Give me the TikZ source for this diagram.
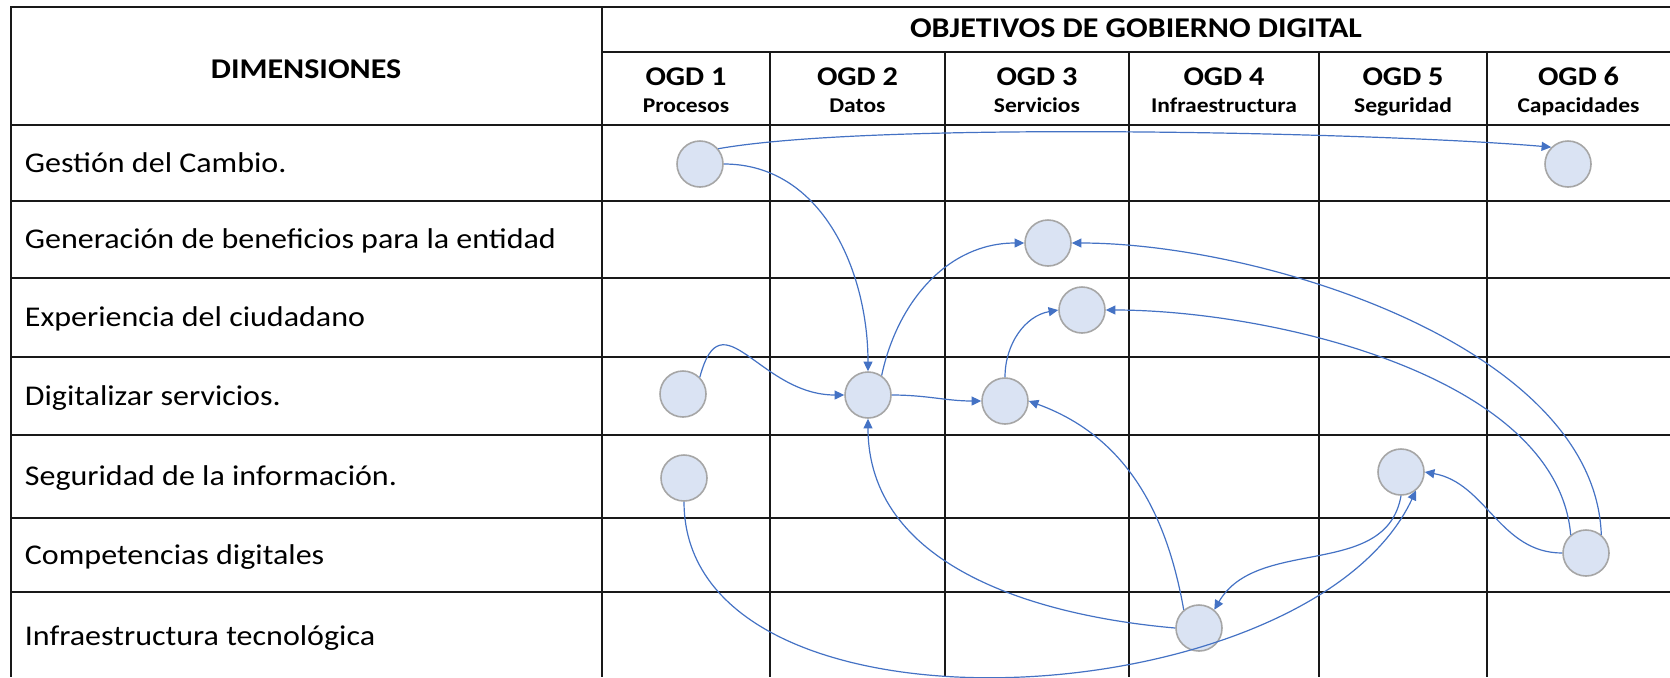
\documentclass[tikz,border=0pt]{standalone}
\usepackage{fontspec}
\setmainfont{Carlito}[FakeStretch=1.12]
\usepackage{xcolor}
\usetikzlibrary{arrows.meta}
\definecolor{circfill}{HTML}{DAE3F3}
\definecolor{circline}{HTML}{A6A6A6}
\definecolor{linkblue}{HTML}{4472C4}

\begin{document}
\begin{tikzpicture}[x=0.5pt, y=0.5pt,
	tableline/.style={line width=1pt, draw=black!90},
	dot/.style={circle, draw=circline, fill=circfill, line width=0.8pt, minimum size=23pt, inner sep=0pt},
	link/.style={draw=linkblue, line width=0.6pt, -{Triangle[length=4.8pt,width=4.5pt]}},
	rowlabel/.style={anchor=base west, inner sep=0pt, font=\fontsize{14.3}{17}\selectfont},
	head/.style={anchor=base, inner sep=0pt, font=\bfseries\fontsize{14.3}{17}\selectfont},
	ogd/.style={anchor=base, inner sep=0pt, font=\bfseries\fontsize{13.5}{16}\selectfont},
	sub/.style={anchor=base, inner sep=0pt, font=\bfseries\fontsize{10.5}{12}\selectfont}]
	\useasboundingbox (0,0) rectangle (1670,-677);
	% tabla
	\draw[tableline] (1670,-7.3) -- (10.7,-7.3) -- (10.7,-677);
	\draw[tableline] (602,-7.3) -- (602,-677);
	\draw[tableline] (602,-52) -- (1670,-52);
	\draw[tableline] (770,-52) -- (770,-677) (945,-52) -- (945,-677) (1129,-52) -- (1129,-677)
		(1319,-52) -- (1319,-677) (1487,-52) -- (1487,-677);
	\draw[tableline] (10.7,-125) -- (1670,-125) (10.7,-201) -- (1670,-201) (10.7,-278) -- (1670,-278)
		(10.7,-357) -- (1670,-357) (10.7,-435) -- (1670,-435) (10.7,-518) -- (1670,-518)
		(10.7,-592) -- (1670,-592);
	% encabezados
	\node[head] (dim) at (306,-78.3) {DIMENSIONES};
	\node[head] (obj) at (1136,-37.5) {OBJETIVOS DE GOBIERNO DIGITAL};
	\node[ogd] (o1) at (686,-85) {OGD 1};
	\node[sub] (s1) at (686,-112.7) {Procesos};
	\node[ogd] (o2) at (857.5,-85) {OGD 2};
	\node[sub] (s2) at (857.5,-112.7) {Datos};
	\node[ogd] (o3) at (1037,-85) {OGD 3};
	\node[sub] (s3) at (1037,-112.7) {Servicios};
	\node[ogd] (o4) at (1224,-85) {OGD 4};
	\node[sub] (s4) at (1224,-112.7) {Infraestructura};
	\node[ogd] (o5) at (1403,-85) {OGD 5};
	\node[sub] (s5) at (1403,-112.7) {Seguridad};
	\node[ogd] (o6) at (1578.5,-85) {OGD 6};
	\node[sub] (s6) at (1578.5,-112.7) {Capacidades};
	% dimensiones
	\node[rowlabel] (r1) at (24.5,-172) {Gestión del Cambio.};
	\node[rowlabel] (r2) at (24.5,-248.5) {Generación de beneficios para la entidad};
	\node[rowlabel] (r3) at (24.5,-326.5) {Experiencia del ciudadano};
	\node[rowlabel] (r4) at (24.5,-405) {Digitalizar servicios.};
	\node[rowlabel] (r5) at (24.5,-485.5) {Seguridad de la información.};
	\node[rowlabel] (r6) at (24.5,-564) {Competencias digitales};
	\node[rowlabel] (r7) at (24.5,-645) {Infraestructura tecnológica};
	% circulos
	\node[dot] (gc1) at (700,-164) {};
	\node[dot] (gc6) at (1568,-164) {};
	\node[dot] (gb3) at (1048,-243) {};
	\node[dot] (ec3) at (1082,-310) {};
	\node[dot] (ds1) at (683,-394) {};
	\node[dot] (ds2) at (868,-395) {};
	\node[dot] (ds3) at (1005,-401) {};
	\node[dot] (si1) at (684,-478) {};
	\node[dot] (si5) at (1401,-472) {};
	\node[dot] (cd6) at (1586,-553) {};
	\node[dot] (it4) at (1199,-628) {};
	% relaciones
	\draw[link] (gc1.40) to[out=10, in=175, looseness=0.5] (gc6.135);
	\draw[link] (gc1.east) to[out=0, in=90] (ds2.north);
	\draw[link] (ds1.45) to[out=75, in=180, looseness=1.5] (ds2.west);
	\draw[link] (ds2.55) to[out=78, in=180] (gb3.west);
	\draw[link] (ds2.east) to[out=0, in=180] (ds3.west);
	\draw[link] (ds3.north) to[out=90, in=190] (ec3.west);
	\draw[link] (cd6.50) to[out=92, in=0, looseness=0.8] (gb3.east);
	\draw[link] (cd6.130) to[out=95, in=0, looseness=0.8] (ec3.east);
	\draw[link] (cd6.west) to[out=180, in=-10] (si5.east);
	\draw[link] (si5.south) to[out=-100, in=60] (it4.50);
	\draw[link] (si1.south) to[out=-90, in=-115, looseness=0.88] (si5.-51);
	\draw[link] (it4.130) to[out=100, in=-20] (ds3.east);
	\draw[link] (it4.west) to[out=175, in=-90] (ds2.south);
\end{tikzpicture}
\end{document}
